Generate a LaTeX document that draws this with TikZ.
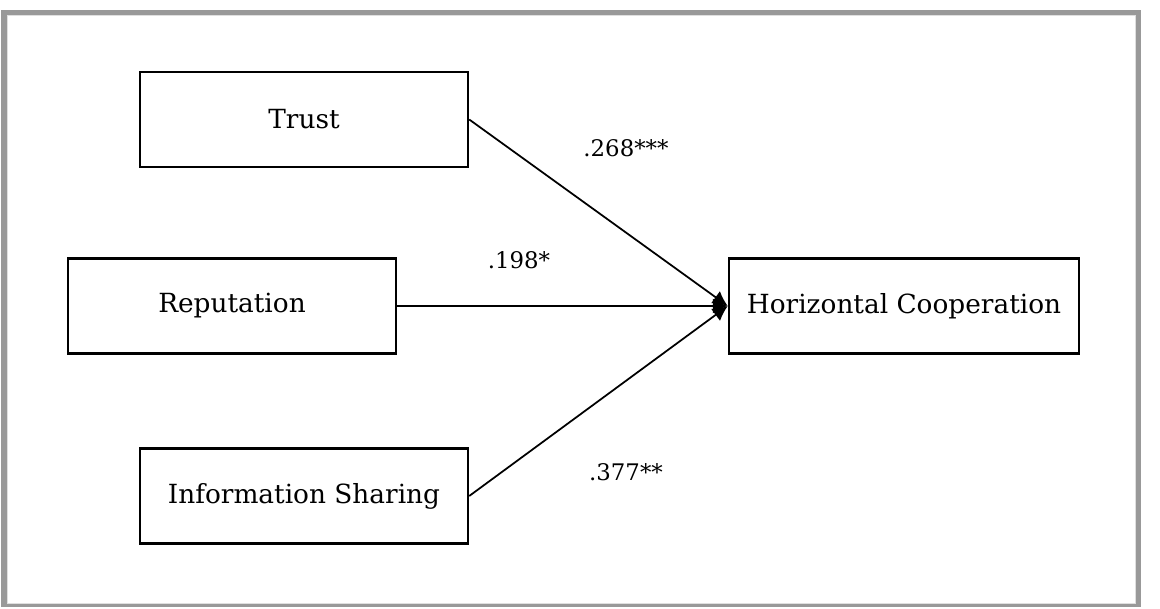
\documentclass[tikz,border=0pt]{standalone}
\usepackage{fontspec}
\setmainfont{DejaVu Serif}
\usetikzlibrary{arrows.meta,positioning}
\tikzset{
  factor/.style={
    draw=black,
    line width=1.4pt,
    minimum width=65.6mm,
    minimum height=19mm,
    inner sep=0pt,
    fill=white,
    font=\fontsize{15}{18}\selectfont
  },
  coef/.style={font=\fontsize{13}{15}\selectfont, inner sep=0pt},
  effect/.style={draw=black, line width=1pt, -{Latex[length=3mm,width=3mm]}},
  shadowframe/.style={fill=gray!80, draw=none},
}
\begin{document}
\begin{tikzpicture}[x=0.2mm,y=-0.2mm]
  \useasboundingbox (0,0) rectangle (1160,609);
  \fill[shadowframe] (1,10) rectangle (1141,607);
  \fill[white, draw=gray!25, line width=0.4pt] (7,15) rectangle (1135,603);

  \node[factor] (trust) at (304,119.5) {Trust};
  \node[factor] (rep) at (232,306) {Reputation};
  \node[factor] (info) at (304,496) {Information Sharing};
  \node[factor, minimum width=70mm] (hc) at (904,306) {Horizontal Cooperation};

  \draw[effect] (trust.east) -- (hc.west);
  \draw[effect] (rep.east) -- (hc.west);
  \draw[effect] (info.east) -- (hc.west);

  \node[coef] (ctrust) at (626,148) {.268***};
  \node[coef] (crep) at (519,260) {.198*};
  \node[coef] (cinfo) at (626,472) {.377**};
\end{tikzpicture}
\end{document}
